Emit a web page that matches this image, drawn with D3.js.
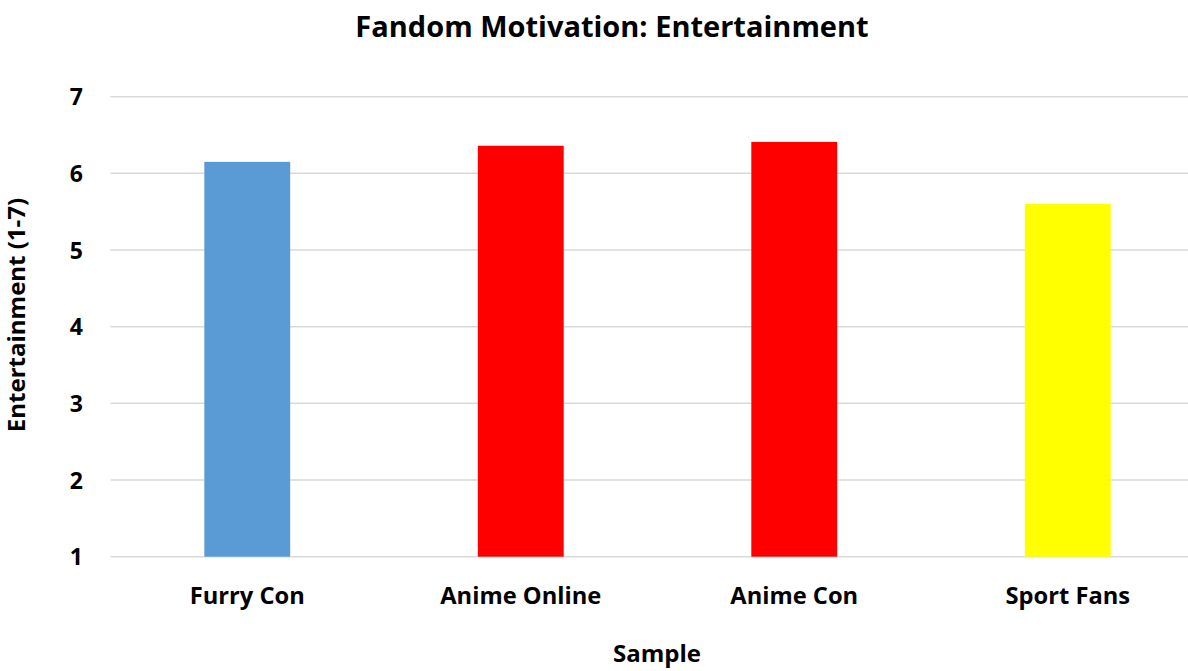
<!DOCTYPE html>
<html><head><meta charset="utf-8">
<script src="https://cdn.jsdelivr.net/npm/d3@7"></script>
<style>body{margin:0;background:#fff}svg{display:block}text{font-family:"Open Sans",sans-serif;font-weight:700;fill:#000}</style>
</head><body><svg id="c" width="1188" height="671"></svg>
<script>
const categories = ["Furry Con", "Anime Online", "Anime Con", "Sport Fans"];
const values = [6.15, 6.36, 6.41, 5.60];
const colors = ["#5b9bd5", "#ff0000", "#ff0000", "#ffff00"];
const yTicks = [1, 2, 3, 4, 5, 6, 7];
const title = "Fandom Motivation: Entertainment";
const xTitle = "Sample";
const yTitle = "Entertainment (1-7)";

const svg = d3.select("#c");
const x = d3.scaleBand().domain(categories).range([110.5, 1204.5]).paddingInner(0.686).paddingOuter(0.343);
const y = d3.scaleLinear().domain([1, 7]).range([556.7, 96.7]);

svg.append("g").selectAll("line").data(yTicks).join("line")
  .attr("x1", 110.5).attr("x2", 1188).attr("y1", d => y(d)).attr("y2", d => y(d))
  .attr("stroke", "#d9d9d9").attr("stroke-width", 1.5);

svg.append("g").selectAll("rect").data(values).join("rect")
  .attr("x", (d, i) => x(categories[i])).attr("width", x.bandwidth())
  .attr("y", d => y(d)).attr("height", d => y(1) - y(d))
  .attr("fill", (d, i) => colors[i]);

const yAxis = svg.append("g").attr("transform", "translate(83,0)")
  .call(d3.axisLeft(y).tickValues(yTicks).tickSize(0).tickFormat(d3.format("d")));
yAxis.select(".domain").remove();
yAxis.selectAll("text").attr("font-size", 23).attr("dy", "0.35em").attr("x", 0)
  .style("font-family", '"Open Sans",sans-serif').style("font-weight", 700);

const xAxis = svg.append("g").attr("transform", "translate(0,596)")
  .call(d3.axisBottom(x).tickSize(0));
xAxis.select(".domain").remove();
xAxis.selectAll("text").attr("font-size", 23.7).attr("dy", "0.35em").attr("y", 0)
  .style("font-family", '"Open Sans",sans-serif').style("font-weight", 700);

svg.append("text").attr("x", 612).attr("y", 27).attr("dy", "0.35em").attr("text-anchor", "middle")
  .attr("font-size", 29).text(title);
svg.append("text").attr("x", 657).attr("y", 654).attr("dy", "0.35em").attr("text-anchor", "middle")
  .attr("font-size", 24).text(xTitle);
svg.append("text").attr("transform", "translate(17,315) rotate(-90)").attr("dy", "0.35em").attr("text-anchor", "middle")
  .attr("font-size", 24).text(yTitle);
</script></body></html>
